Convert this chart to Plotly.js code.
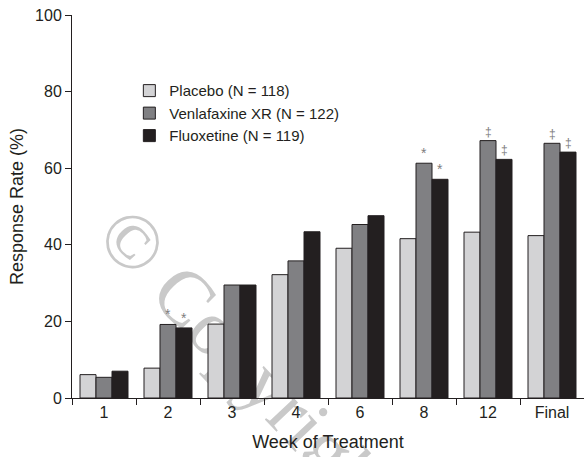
<!DOCTYPE html>
<html>
<head>
<meta charset="utf-8">
<script src="https://cdn.plot.ly/plotly-3.0.1.min.js"></script>
<style>html,body{margin:0;padding:0;background:#fff;}#chart{width:584px;height:457px;}</style>
</head>
<body>
<div id="chart"></div>
<script>
const weeks = ['1', '2', '3', '4', '6', '8', '12', 'Final'];
const placebo = [6.1, 7.8, 19.3, 32.2, 39.1, 41.6, 43.3, 42.4];
const venlafaxine = [5.4, 19.2, 29.5, 35.8, 45.3, 61.3, 67.2, 66.5];
const fluoxetine = [7.0, 18.3, 29.5, 43.4, 47.6, 57.1, 62.3, 64.2];
const seriesNames = ['Placebo (N = 118)', 'Venlafaxine XR (N = 122)', 'Fluoxetine (N = 119)'];
// significance markers: week, series index (1 = venlafaxine, 2 = fluoxetine), symbol
const markerWeeks = ['2', '2', '8', '8', '12', '12', 'Final', 'Final'];
const markerSeries = [1, 2, 1, 2, 1, 2, 1, 2];
const markerSymbols = ['*', '*', '*', '*', '‡', '‡', '‡', '‡'];
const watermark = '© Copyright';

const colors = ['#d3d3d5', '#808083', '#231f20'];
const allVals = [placebo, venlafaxine, fluoxetine];
const outline = {color: '#231f20', width: 1};

const traces = allVals.map((vals, i) => ({
  type: 'bar', x: weeks, y: vals, name: seriesNames[i],
  marker: {color: colors[i], line: outline}
}));

const annotations = markerWeeks.map((w, i) => {
  const s = markerSeries[i];
  const idx = weeks.indexOf(w);
  const v = allVals[s][idx];
  const isStar = markerSymbols[i] === '*';
  return {
    x: idx, y: v, xref: 'x', yref: 'y', text: markerSymbols[i], showarrow: false,
    xanchor: 'center', yanchor: 'bottom', xshift: (s - 1) * 16, yshift: isStar ? 0 : 0,
    font: {family: 'Liberation Sans, Arial, sans-serif', size: isStar ? 14 : 12, color: '#7d7d7d'}
  };
});

const font = {family: 'Liberation Sans, Arial, Helvetica, sans-serif', color: '#231f20'};
const layout = {
  width: 584, height: 457,
  margin: {l: 72, r: 0, t: 15, b: 59},
  paper_bgcolor: '#fff', plot_bgcolor: '#fff',
  font: Object.assign({size: 16}, font),
  barmode: 'group', bargap: 0.25, bargroupgap: 0,
  showlegend: true,
  legend: {x: 0.112, y: 0.845, xanchor: 'left', yanchor: 'top', bgcolor: 'rgba(0,0,0,0)',
           font: Object.assign({size: 15}, font), tracegroupgap: 0, traceorder: 'normal'},
  xaxis: {
    type: 'category', range: [-0.5, 7.5], tickson: 'boundaries',
    showline: true, linecolor: '#231f20', linewidth: 1,
    ticks: 'outside', ticklen: 6, tickcolor: '#231f20', showgrid: false, zeroline: false,
    tickfont: Object.assign({size: 16}, font),
    title: {text: 'Week of Treatment', font: Object.assign({size: 18}, font), standoff: 15}
  },
  yaxis: {
    range: [0, 100], tickvals: [0, 20, 40, 60, 80, 100],
    showline: true, linecolor: '#231f20', linewidth: 1,
    ticks: 'outside', ticklen: 6, tickcolor: '#231f20', showgrid: false, zeroline: false,
    tickfont: Object.assign({size: 16}, font),
    title: {text: 'Response Rate (%)', font: Object.assign({size: 18}, font), standoff: 6}
  },
  shapes: [{
    type: 'line', xref: 'paper', yref: 'paper', layer: 'below',
    x0: -0.01, y0: 0.446, x1: 0.59, y1: -0.404,
    line: {width: 0, color: 'rgba(0,0,0,0)'},
    label: {text: watermark, textposition: 'middle', textangle: 'auto',
            font: {family: 'Liberation Serif, Times New Roman, serif', size: 78, color: '#c9c9c9'}}
  }],
  annotations: annotations
};

Plotly.newPlot('chart', traces, layout, {displayModeBar: false, staticPlot: true});
</script>
</body>
</html>
